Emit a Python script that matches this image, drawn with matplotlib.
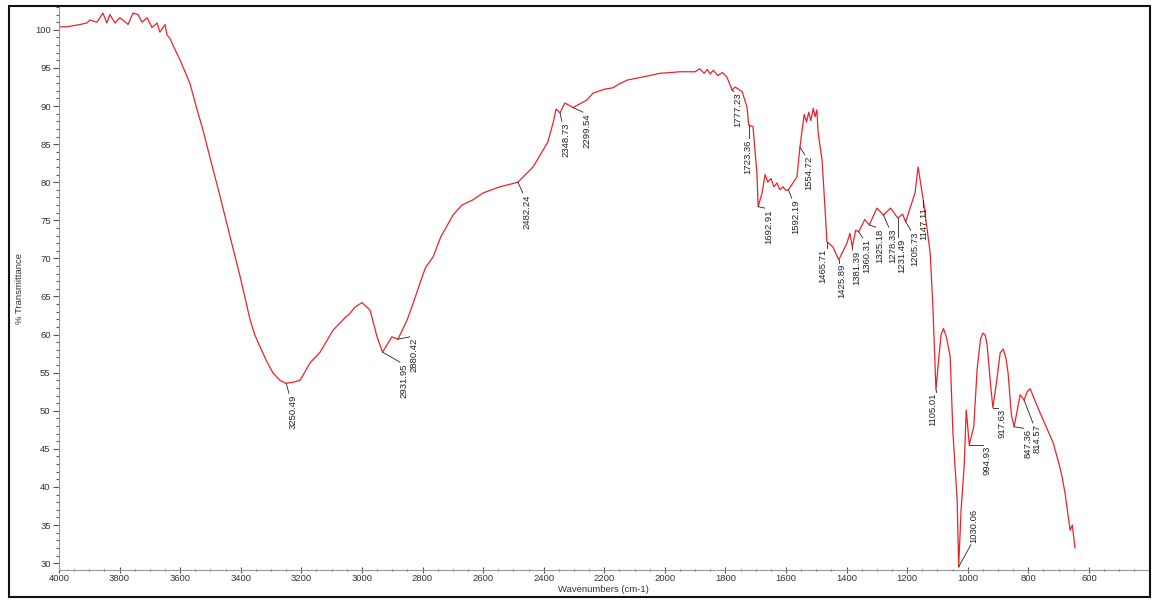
import matplotlib.pyplot as plt
from matplotlib.patches import Rectangle
from matplotlib.ticker import MultipleLocator

plt.rcParams['font.family'] = ['Liberation Sans', 'DejaVu Sans']

# spectrum (wavenumber cm-1, % transmittance)
wavenumber = [4000, 3974, 3931, 3908, 3898, 3875, 3855, 3842, 3832, 3815, 3799, 3772, 3756,
              3739, 3726, 3709, 3693, 3676, 3667, 3650, 3643, 3634, 3624, 3601, 3568, 3544,
              3525, 3502, 3468, 3435, 3402, 3369, 3353, 3336, 3317, 3294, 3271, 3250, 3221,
              3204, 3171, 3138, 3095, 3056, 3039, 3023, 3000, 2973, 2950, 2932, 2901, 2881,
              2851, 2830, 2808, 2790, 2765, 2740, 2699, 2670, 2633, 2600, 2544, 2485, 2435,
              2386, 2369, 2359, 2346, 2330, 2303, 2257, 2237, 2200, 2171, 2150, 2125, 2100,
              2050, 2016, 1980, 1950, 1907, 1900, 1885, 1870, 1860, 1850, 1840, 1825, 1810,
              1795, 1778, 1768, 1745, 1729, 1723, 1709, 1696, 1692, 1679, 1669, 1660, 1650,
              1640, 1630, 1620, 1610, 1600, 1592, 1564, 1554, 1548, 1540, 1532, 1525, 1518,
              1510, 1504, 1498, 1494, 1481, 1471, 1465, 1445, 1426, 1399, 1389, 1381, 1370,
              1360, 1340, 1325, 1300, 1278, 1255, 1231, 1215, 1205, 1174, 1164, 1147, 1124,
              1115, 1105, 1096, 1088, 1080, 1070, 1058, 1049, 1035, 1030, 1022, 1012, 1005,
              995, 980, 969, 958, 950, 942, 936, 925, 917, 905, 893, 883, 874, 867, 856,
              847, 836, 827, 814, 804, 794, 780, 761, 740, 718, 700, 690, 679, 662, 655, 646]
transmittance = [100.4, 100.4, 100.7, 100.9, 101.3, 101.0, 102.2, 100.9, 102.0, 100.9, 101.6,
                 100.7, 102.2, 102.0, 101.0, 101.6, 100.3, 100.9, 99.7, 100.7, 99.3, 98.9, 98.0,
                 96.1, 93.0, 89.5, 86.9, 83.3, 78.1, 72.8, 67.6, 61.9, 59.9, 58.4, 56.7, 55.0,
                 54.0, 53.6, 53.8, 54.0, 56.3, 57.7, 60.6, 62.2, 62.8, 63.6, 64.2, 63.2, 59.7,
                 57.7, 59.7, 59.4, 61.9, 64.2, 66.8, 68.8, 70.2, 72.8, 75.7, 77.0, 77.7, 78.6,
                 79.4, 80.0, 82.0, 85.3, 87.8, 89.6, 89.1, 90.4, 89.8, 90.8, 91.7, 92.2, 92.4,
                 92.9, 93.4, 93.6, 94.0, 94.3, 94.4, 94.5, 94.5, 94.5, 94.9, 94.3, 94.8, 94.2,
                 94.7, 94.0, 94.4, 93.8, 92.1, 92.5, 91.9, 89.9, 87.5, 87.3, 81.2, 76.8, 78.6,
                 81.0, 80.0, 80.5, 79.4, 79.9, 79.0, 79.4, 78.9, 79.0, 80.7, 84.6, 86.5, 88.9,
                 87.9, 89.2, 88.1, 89.7, 88.6, 89.5, 86.5, 82.9, 76.4, 72.2, 71.5, 69.8, 72.0,
                 73.3, 71.5, 73.7, 73.5, 75.1, 74.4, 76.6, 75.7, 76.6, 75.3, 75.8, 74.8, 78.6,
                 82.0, 77.7, 70.7, 63.6, 52.7, 56.8, 60.0, 60.8, 59.6, 57.1, 47.1, 38.3, 29.5,
                 37.0, 42.6, 50.1, 45.5, 48.0, 55.5, 59.4, 60.2, 59.9, 58.6, 53.5, 50.4, 53.8,
                 57.6, 58.1, 56.9, 55.0, 49.5, 47.9, 50.2, 52.1, 51.4, 52.5, 52.9, 51.5, 49.7,
                 47.8, 45.8, 43.2, 41.6, 39.2, 34.3, 35.0, 32.0]

# peak labels: text, marked point, label position (text top)
peak_labels = ['3250.49', '2931.95', '2880.42', '2482.24', '2348.73', '2299.54', '1777.23',
               '1723.36', '1692.91', '1592.19', '1554.72', '1465.71', '1425.89', '1381.39',
               '1360.31', '1325.18', '1278.33', '1231.49', '1205.73', '1147.11', '1105.01',
               '994.93', '917.63', '847.36', '814.57']
peak_w = [3250, 2932, 2881, 2485, 2346, 2303, 1778, 1723, 1692, 1592, 1554, 1465, 1426, 1381,
          1360, 1325, 1278, 1231, 1205, 1147, 1105, 995, 917, 847, 814]
peak_t = [53.6, 57.7, 59.4, 80.0, 89.1, 89.8, 92.1, 87.5, 76.8, 79.0, 84.6, 72.2, 69.8, 71.5,
          73.5, 74.4, 75.7, 75.3, 74.8, 77.7, 52.7, 45.5, 50.4, 47.9, 51.4]
label_w = [3227, 2861, 2828, 2455, 2326, 2257, 1758, 1725, 1656, 1567, 1524, 1478, 1415, 1366,
           1333, 1290, 1247, 1217, 1174, 1144, 1115, 936, 887, 801, 771]
label_t = [52.3, 56.4, 59.7, 78.6, 88.0, 89.2, 91.9, 85.8, 76.6, 77.9, 83.6, 71.4, 69.4, 71.1,
           72.7, 74.1, 74.1, 72.8, 73.7, 76.8, 52.5, 45.5, 50.4, 47.7, 48.4]

fig = plt.figure(figsize=(11.54, 6.01), dpi=100)
ax = fig.add_axes([59 / 1154, 31 / 601, 1089 / 1154, 563 / 601])

ax.plot(wavenumber, transmittance, color='#e8232a', linewidth=0.9)

for txt, pw, pt, lw_, lt in zip(peak_labels, peak_w, peak_t, label_w, label_t):
    # leader runs to the top corner of the label nearest the peak
    off = max(-14, min(14, pw - lw_))
    ax.plot([pw, lw_ + off], [pt, lt], color='#222222', linewidth=0.6)
    ax.text(lw_, lt - 0.15, txt, rotation=90, ha='center', va='top', fontsize=6.8, color='#222222')

# 1030.06 sits above its leader
ax.plot([1030, 990], [29.5, 32.4], color='#222222', linewidth=0.6)
ax.text(979, 32.6, '1030.06', rotation=90, ha='center', va='bottom', fontsize=6.8, color='#222222')

ax.set_xlim(4000, 405)
ax.set_ylim(29.1, 103.0)
ax.xaxis.set_minor_locator(MultipleLocator(50))
ax.yaxis.set_minor_locator(MultipleLocator(1))
ax.set_xticks(range(600, 4001, 200))
ax.set_yticks(range(30, 101, 5))

for s in ['top', 'right']:
    ax.spines[s].set_visible(False)
for s in ['left', 'bottom']:
    ax.spines[s].set_color('#999999')
    ax.spines[s].set_linewidth(0.8)

ax.tick_params(axis='both', which='major', labelsize=6.8, colors='#555555', labelcolor='#333333', length=4, width=0.8)
ax.tick_params(axis='both', which='minor', colors='#555555', length=2, width=0.8)
ax.tick_params(axis='x', which='both', direction='inout')
ax.tick_params(axis='y', pad=2)
ax.tick_params(axis='x', pad=1)

ax.set_xlabel('Wavenumbers (cm-1)', fontsize=6.8, color='#333333', labelpad=1)
ax.set_ylabel('% Transmittance', fontsize=6.8, color='#333333', labelpad=8)

# outer frame
fig.patches.append(Rectangle((9 / 1154, 4 / 601), 1141 / 1154, 591 / 601, transform=fig.transFigure,
                             fill=False, edgecolor='#111111', linewidth=1.5))

fig.savefig('out.png', dpi=100)
